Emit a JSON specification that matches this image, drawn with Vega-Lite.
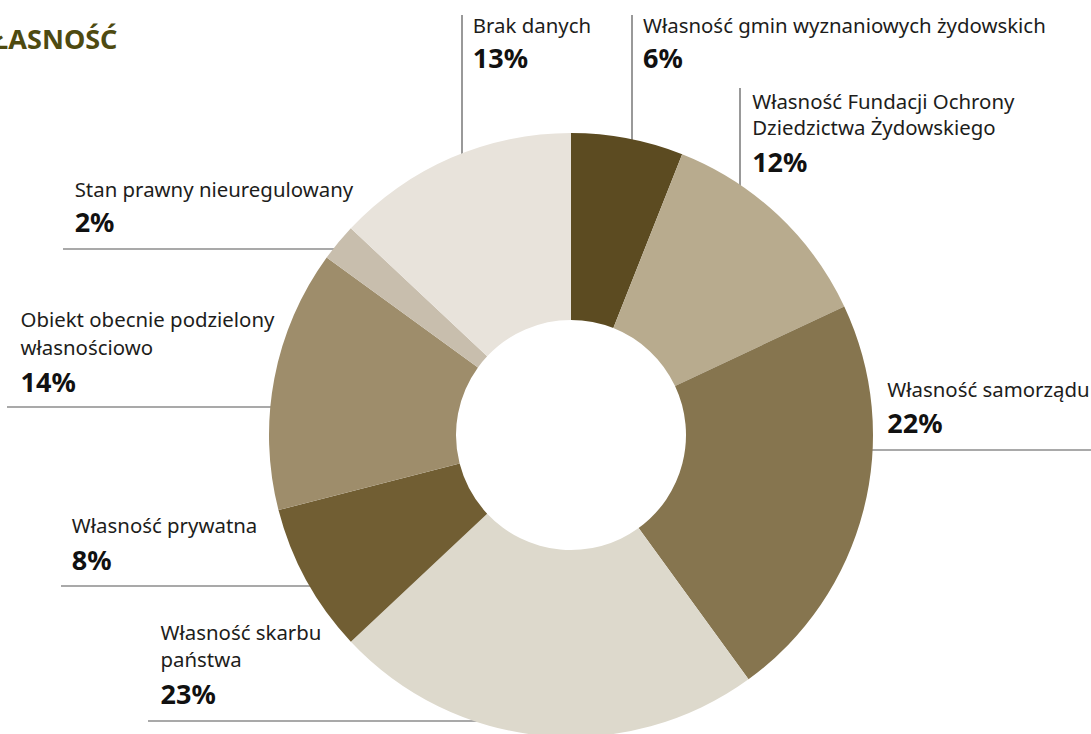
{
  "$schema": "https://vega.github.io/schema/vega-lite/v6.json",
  "width": 1040,
  "height": 598,
  "autosize": {"type": "none"},
  "padding": {"left": 51, "top": 136, "right": 0, "bottom": 0},
  "background": "#ffffff",
  "title": {
    "text": "WŁASNOŚĆ",
    "anchor": "start",
    "frame": "group",
    "font": "Noto Sans",
    "fontSize": 27,
    "fontWeight": "bold",
    "color": "#4e4a10",
    "dx": -84,
    "dy": 41,
    "offset": 0
  },
  "config": {"view": {"stroke": null}, "text": {"font": "Noto Sans"}},
  "data": {
    "values": [
      {"name": "Własność gmin wyznaniowych żydowskich", "share": 0.06},
      {"name": "Własność Fundacji Ochrony\nDziedzictwa Żydowskiego", "share": 0.12},
      {"name": "Własność samorządu", "share": 0.22},
      {"name": "Własność skarbu\npaństwa", "share": 0.23},
      {"name": "Własność prywatna", "share": 0.08},
      {"name": "Obiekt obecnie podzielony\nwłasnościowo", "share": 0.14},
      {"name": "Stan prawny nieuregulowany", "share": 0.02},
      {"name": "Brak danych", "share": 0.13}
    ]
  },
  "transform": [{"stack": "share", "groupby": [], "as": ["s0", "s1"]}],
  "layer": [
    {
      "transform": [{"filter": {"field": "name", "equal": "Własność gmin wyznaniowych żydowskich"}}],
      "mark": {"type": "rule", "color": "#555555", "strokeWidth": 1.2},
      "encoding": {
        "x": {"datum": 61, "scale": {"domain": [-520, 520], "nice": false, "zero": false}, "axis": null},
        "y": {"datum": 420, "scale": {"domain": [-299, 299], "nice": false, "zero": false}, "axis": null},
        "y2": {"datum": 290}
      }
    },
    {
      "transform": [{"filter": {"field": "name", "equal": "Własność Fundacji Ochrony\nDziedzictwa Żydowskiego"}}],
      "mark": {"type": "rule", "color": "#555555", "strokeWidth": 1.2},
      "encoding": {
        "x": {"datum": 169, "scale": {"domain": [-520, 520], "nice": false, "zero": false}, "axis": null},
        "y": {"datum": 347, "scale": {"domain": [-299, 299], "nice": false, "zero": false}, "axis": null},
        "y2": {"datum": 240}
      }
    },
    {
      "transform": [{"filter": {"field": "name", "equal": "Własność samorządu"}}],
      "mark": {"type": "rule", "color": "#555555", "strokeWidth": 1.2},
      "encoding": {
        "x": {"datum": 290, "scale": {"domain": [-520, 520], "nice": false, "zero": false}, "axis": null},
        "x2": {"datum": 520},
        "y": {"datum": -15, "scale": {"domain": [-299, 299], "nice": false, "zero": false}, "axis": null}
      }
    },
    {
      "transform": [{"filter": {"field": "name", "equal": "Własność skarbu\npaństwa"}}],
      "mark": {"type": "rule", "color": "#555555", "strokeWidth": 1.2},
      "encoding": {
        "x": {"datum": -423, "scale": {"domain": [-520, 520], "nice": false, "zero": false}, "axis": null},
        "x2": {"datum": -85},
        "y": {"datum": -286, "scale": {"domain": [-299, 299], "nice": false, "zero": false}, "axis": null}
      }
    },
    {
      "transform": [{"filter": {"field": "name", "equal": "Własność prywatna"}}],
      "mark": {"type": "rule", "color": "#555555", "strokeWidth": 1.2},
      "encoding": {
        "x": {"datum": -510, "scale": {"domain": [-520, 520], "nice": false, "zero": false}, "axis": null},
        "x2": {"datum": -250},
        "y": {"datum": -151, "scale": {"domain": [-299, 299], "nice": false, "zero": false}, "axis": null}
      }
    },
    {
      "transform": [{"filter": {"field": "name", "equal": "Obiekt obecnie podzielony\nwłasnościowo"}}],
      "mark": {"type": "rule", "color": "#555555", "strokeWidth": 1.2},
      "encoding": {
        "x": {"datum": -564, "scale": {"domain": [-520, 520], "nice": false, "zero": false}, "axis": null},
        "x2": {"datum": -290},
        "y": {"datum": 28, "scale": {"domain": [-299, 299], "nice": false, "zero": false}, "axis": null}
      }
    },
    {
      "transform": [{"filter": {"field": "name", "equal": "Stan prawny nieuregulowany"}}],
      "mark": {"type": "rule", "color": "#555555", "strokeWidth": 1.2},
      "encoding": {
        "x": {"datum": -508, "scale": {"domain": [-520, 520], "nice": false, "zero": false}, "axis": null},
        "x2": {"datum": -228},
        "y": {"datum": 186, "scale": {"domain": [-299, 299], "nice": false, "zero": false}, "axis": null}
      }
    },
    {
      "transform": [{"filter": {"field": "name", "equal": "Brak danych"}}],
      "mark": {"type": "rule", "color": "#555555", "strokeWidth": 1.2},
      "encoding": {
        "x": {"datum": -109, "scale": {"domain": [-520, 520], "nice": false, "zero": false}, "axis": null},
        "y": {"datum": 420, "scale": {"domain": [-299, 299], "nice": false, "zero": false}, "axis": null},
        "y2": {"datum": 270}
      }
    },
    {
      "mark": {"type": "arc", "innerRadius": 115, "outerRadius": 302},
      "encoding": {
        "theta": {"field": "s0", "type": "quantitative", "scale": {"domain": [0, 1]}},
        "theta2": {"field": "s1"},
        "color": {
          "field": "name",
          "type": "nominal",
          "scale": {
            "domain": [
              "Własność gmin wyznaniowych żydowskich",
              "Własność Fundacji Ochrony\nDziedzictwa Żydowskiego",
              "Własność samorządu",
              "Własność skarbu\npaństwa",
              "Własność prywatna",
              "Obiekt obecnie podzielony\nwłasnościowo",
              "Stan prawny nieuregulowany",
              "Brak danych"
            ],
            "range": ["#5c4b21", "#b8ab8e", "#86754f", "#ddd9cc", "#715e33", "#9e8d6b", "#c8bead", "#e8e3db"]
          },
          "legend": null
        }
      }
    },
    {
      "transform": [{"filter": {"field": "name", "equal": "Własność gmin wyznaniowych żydowskich"}}],
      "mark": {"type": "text", "radius": 302, "align": "left", "baseline": "alphabetic", "dx": 72, "dy": -100, "fontSize": 20.4, "color": "#1d1d1b"},
      "encoding": {"theta": {"field": "s0", "type": "quantitative", "scale": {"domain": [0, 1]}}, "text": {"field": "name"}}
    },
    {
      "transform": [{"filter": {"field": "name", "equal": "Własność gmin wyznaniowych żydowskich"}}],
      "mark": {"type": "text", "radius": 302, "align": "left", "baseline": "alphabetic", "dx": 72, "dy": -65, "fontSize": 27, "fontWeight": "bold", "color": "#111111"},
      "encoding": {"theta": {"field": "s0", "type": "quantitative", "scale": {"domain": [0, 1]}}, "text": {"field": "share", "type": "quantitative", "format": ".0%"}}
    },
    {
      "transform": [{"filter": {"field": "name", "equal": "Własność Fundacji Ochrony\nDziedzictwa Żydowskiego"}}],
      "mark": {"type": "text", "radius": 302, "align": "left", "baseline": "alphabetic", "dx": 70, "dy": -45, "fontSize": 20.4, "lineBreak": "\n", "lineHeight": 26, "color": "#1d1d1b"},
      "encoding": {"theta": {"field": "s0", "type": "quantitative", "scale": {"domain": [0, 1]}}, "text": {"field": "name"}}
    },
    {
      "transform": [{"filter": {"field": "name", "equal": "Własność Fundacji Ochrony\nDziedzictwa Żydowskiego"}}],
      "mark": {"type": "text", "radius": 302, "align": "left", "baseline": "alphabetic", "dx": 70, "dy": 18, "fontSize": 27, "fontWeight": "bold", "color": "#111111"},
      "encoding": {"theta": {"field": "s0", "type": "quantitative", "scale": {"domain": [0, 1]}}, "text": {"field": "share", "type": "quantitative", "format": ".0%"}}
    },
    {
      "transform": [{"filter": {"field": "name", "equal": "Własność samorządu"}}],
      "mark": {"type": "text", "radius": 302, "align": "left", "baseline": "alphabetic", "dx": 43, "dy": 91, "fontSize": 20.4, "color": "#1d1d1b"},
      "encoding": {"theta": {"field": "s0", "type": "quantitative", "scale": {"domain": [0, 1]}}, "text": {"field": "name"}}
    },
    {
      "transform": [{"filter": {"field": "name", "equal": "Własność samorządu"}}],
      "mark": {"type": "text", "radius": 302, "align": "left", "baseline": "alphabetic", "dx": 43, "dy": 127, "fontSize": 27, "fontWeight": "bold", "color": "#111111"},
      "encoding": {"theta": {"field": "s0", "type": "quantitative", "scale": {"domain": [0, 1]}}, "text": {"field": "share", "type": "quantitative", "format": ".0%"}}
    },
    {
      "transform": [{"filter": {"field": "name", "equal": "Własność skarbu\npaństwa"}}],
      "mark": {"type": "text", "radius": 302, "align": "left", "baseline": "alphabetic", "dx": -588, "dy": -39, "fontSize": 20.4, "lineBreak": "\n", "lineHeight": 27, "color": "#1d1d1b"},
      "encoding": {"theta": {"field": "s0", "type": "quantitative", "scale": {"domain": [0, 1]}}, "text": {"field": "name"}}
    },
    {
      "transform": [{"filter": {"field": "name", "equal": "Własność skarbu\npaństwa"}}],
      "mark": {"type": "text", "radius": 302, "align": "left", "baseline": "alphabetic", "dx": -588, "dy": 25, "fontSize": 27, "fontWeight": "bold", "color": "#111111"},
      "encoding": {"theta": {"field": "s0", "type": "quantitative", "scale": {"domain": [0, 1]}}, "text": {"field": "share", "type": "quantitative", "format": ".0%"}}
    },
    {
      "transform": [{"filter": {"field": "name", "equal": "Własność prywatna"}}],
      "mark": {"type": "text", "radius": 302, "align": "left", "baseline": "alphabetic", "dx": -279, "dy": -109, "fontSize": 20.4, "color": "#1d1d1b"},
      "encoding": {"theta": {"field": "s0", "type": "quantitative", "scale": {"domain": [0, 1]}}, "text": {"field": "name"}}
    },
    {
      "transform": [{"filter": {"field": "name", "equal": "Własność prywatna"}}],
      "mark": {"type": "text", "radius": 302, "align": "left", "baseline": "alphabetic", "dx": -279, "dy": -72, "fontSize": 27, "fontWeight": "bold", "color": "#111111"},
      "encoding": {"theta": {"field": "s0", "type": "quantitative", "scale": {"domain": [0, 1]}}, "text": {"field": "share", "type": "quantitative", "format": ".0%"}}
    },
    {
      "transform": [{"filter": {"field": "name", "equal": "Obiekt obecnie podzielony\nwłasnościowo"}}],
      "mark": {"type": "text", "radius": 302, "align": "left", "baseline": "alphabetic", "dx": -258, "dy": -183, "fontSize": 20.4, "lineBreak": "\n", "lineHeight": 28, "color": "#1d1d1b"},
      "encoding": {"theta": {"field": "s0", "type": "quantitative", "scale": {"domain": [0, 1]}}, "text": {"field": "name"}}
    },
    {
      "transform": [{"filter": {"field": "name", "equal": "Obiekt obecnie podzielony\nwłasnościowo"}}],
      "mark": {"type": "text", "radius": 302, "align": "left", "baseline": "alphabetic", "dx": -258, "dy": -118, "fontSize": 27, "fontWeight": "bold", "color": "#111111"},
      "encoding": {"theta": {"field": "s0", "type": "quantitative", "scale": {"domain": [0, 1]}}, "text": {"field": "share", "type": "quantitative", "format": ".0%"}}
    },
    {
      "transform": [{"filter": {"field": "name", "equal": "Stan prawny nieuregulowany"}}],
      "mark": {"type": "text", "radius": 302, "align": "left", "baseline": "alphabetic", "dx": -252, "dy": -60, "fontSize": 20.4, "color": "#1d1d1b"},
      "encoding": {"theta": {"field": "s0", "type": "quantitative", "scale": {"domain": [0, 1]}}, "text": {"field": "name"}}
    },
    {
      "transform": [{"filter": {"field": "name", "equal": "Stan prawny nieuregulowany"}}],
      "mark": {"type": "text", "radius": 302, "align": "left", "baseline": "alphabetic", "dx": -252, "dy": -25, "fontSize": 27, "fontWeight": "bold", "color": "#111111"},
      "encoding": {"theta": {"field": "s0", "type": "quantitative", "scale": {"domain": [0, 1]}}, "text": {"field": "share", "type": "quantitative", "format": ".0%"}}
    },
    {
      "transform": [{"filter": {"field": "name", "equal": "Brak danych"}}],
      "mark": {"type": "text", "radius": 302, "align": "left", "baseline": "alphabetic", "dx": 122, "dy": -195, "fontSize": 20.4, "color": "#1d1d1b"},
      "encoding": {"theta": {"field": "s0", "type": "quantitative", "scale": {"domain": [0, 1]}}, "text": {"field": "name"}}
    },
    {
      "transform": [{"filter": {"field": "name", "equal": "Brak danych"}}],
      "mark": {"type": "text", "radius": 302, "align": "left", "baseline": "alphabetic", "dx": 122, "dy": -160, "fontSize": 27, "fontWeight": "bold", "color": "#111111"},
      "encoding": {"theta": {"field": "s0", "type": "quantitative", "scale": {"domain": [0, 1]}}, "text": {"field": "share", "type": "quantitative", "format": ".0%"}}
    }
  ]
}
